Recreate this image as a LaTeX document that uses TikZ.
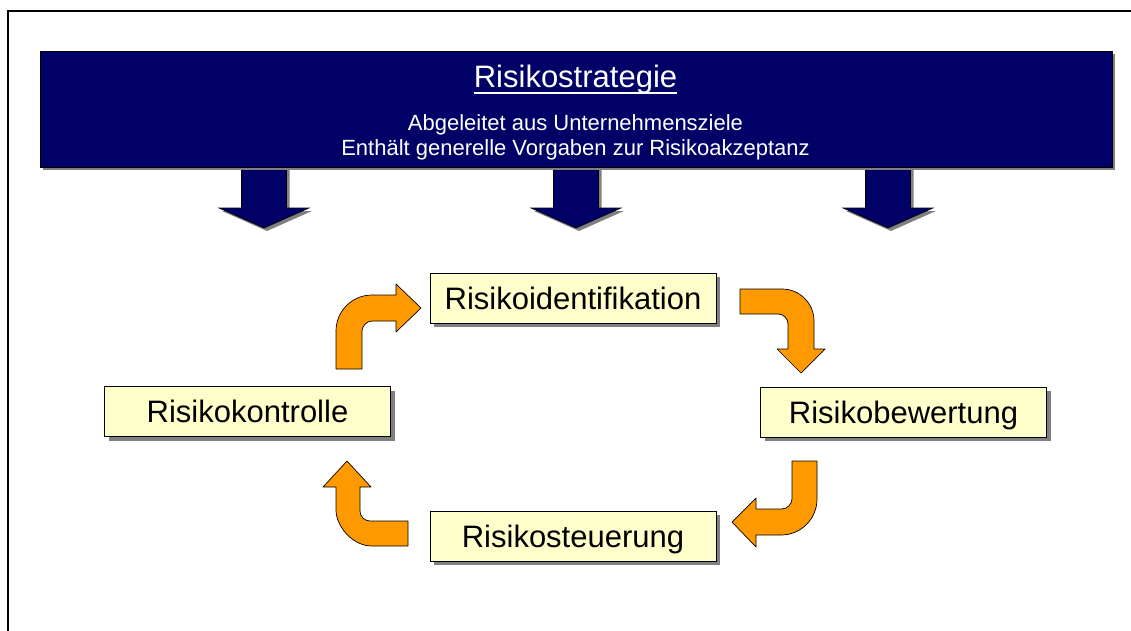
\documentclass[tikz,border=0pt]{standalone}
\usepackage{fontspec}
\setmainfont{Liberation Sans}
\usetikzlibrary{shadows}

\definecolor{navy}{RGB}{0,0,102}
\definecolor{boxyellow}{RGB}{255,255,204}
\definecolor{orangefill}{RGB}{255,153,0}
\definecolor{shadowgray}{RGB}{128,128,128}

\tikzset{
  shadowed/.style={drop shadow={shadow xshift=#1, shadow yshift=-#1, fill=shadowgray, opacity=1}},
  banner/.style={draw=black, line width=0.8pt, fill=navy, minimum width=1072pt,
    minimum height=116pt, inner sep=0pt, shadowed=3pt},
  downarrow/.style={draw=black, line width=0.6pt, fill=navy, shadowed=3pt},
  stepbox/.style={draw=black, line width=0.8pt, fill=boxyellow, minimum width=286pt,
    minimum height=50pt, inner sep=0pt, text height=22pt, text depth=0pt,
    font=\fontsize{31}{36}\selectfont, shadowed=4pt},
  turnarrow/.style={draw=black, line width=0.7pt, fill=orangefill, line join=round},
  whitetext/.style={text=white, inner sep=0pt, anchor=base}
}

\begin{document}
\begin{tikzpicture}[x=1pt, y=-1pt]
\useasboundingbox (0,0) rectangle (1131,630);
\fill[white] (0,0) rectangle (1131,630);

% outer frame (left and top edges)
\draw[line width=1.5pt] (8,632) -- (8,11) -- (1133,11);

% three arrows from the strategy banner
\foreach \cx in {264,576,888} {
  \draw[downarrow] (\cx-22.5,160) -- (\cx+22.5,160) -- (\cx+22.5,208) -- (\cx+45,208)
    -- (\cx,228) -- (\cx-45,208) -- (\cx-22.5,208) -- cycle;
}

% strategy banner
\node[banner] (strat) at (576,109) {};
\node[whitetext, font=\fontsize{31}{36}\selectfont] (title) at (575.5,87.7) {Risikostrategie};
\draw[white, line width=2pt] ([yshift=-5pt]title.base west) -- ([yshift=-5pt]title.base east);
\node[whitetext, font=\fontsize{22}{25}\selectfont] (sub1) at (575.5,130) {Abgeleitet aus Unternehmensziele};
\node[whitetext, font=\fontsize{22}{25}\selectfont] (sub2) at (575.5,155) {Enthält generelle Vorgaben zur Risikoakzeptanz};

% process steps
\node[stepbox] (ident) at (573,298) {Risikoidentifikation};
\node[stepbox] (bewert) at (903.5,412) {Risikobewertung};
\node[stepbox] (steuer) at (573,536) {Risikosteuerung};
\node[stepbox] (kontr) at (247.5,411.5) {Risikokontrolle};

% bent arrows of the cycle
% Kontrolle -> Identifikation
\draw[turnarrow] (336,369) -- (336,331) .. controls (336,311.1) and (352.1,295) .. (372,295)
  -- (396,295) -- (396,284) -- (421,308) -- (396,332) -- (396,321) -- (372,321)
  .. controls (366.5,321) and (362,326.5) .. (362,331) -- (362,369) -- cycle;
% Identifikation -> Bewertung
\draw[turnarrow] (740,289) -- (782,289) .. controls (799.7,289) and (814,303.3) .. (814,321)
  -- (814,349) -- (825,349) -- (801,373) -- (777,349) -- (788,349) -- (788,324)
  .. controls (788,318.5) and (783.5,314) .. (778,314) -- (740,314) -- cycle;
% Bewertung -> Steuerung
\draw[turnarrow] (817,461) -- (817,499) .. controls (817,518.9) and (800.9,535) .. (781,535)
  -- (756,535) -- (756,547) -- (732,522) -- (756,498) -- (756,509) -- (782,509)
  .. controls (787.5,509) and (792,503.5) .. (792,499) -- (792,461) -- cycle;
% Steuerung -> Kontrolle
\draw[turnarrow] (408,546) -- (372,546) .. controls (352.1,546) and (336,525.9) .. (336,510)
  -- (336,487) -- (323,487) -- (347,461) -- (371,487) -- (360,487) -- (360,511)
  .. controls (360,516.5) and (364.5,521) .. (370,521) -- (408,521) -- cycle;
\end{tikzpicture}
\end{document}
